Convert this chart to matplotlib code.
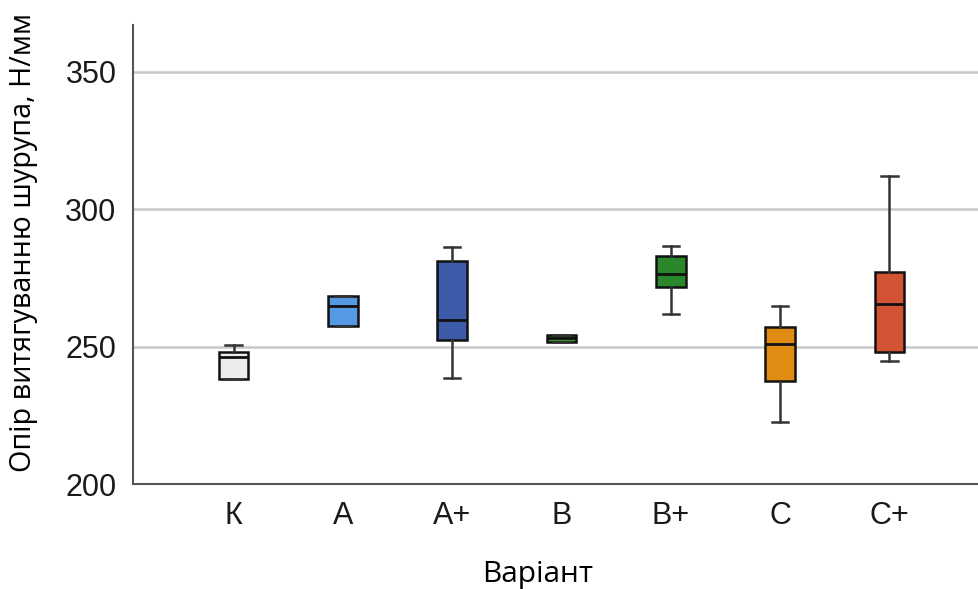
import matplotlib
matplotlib.use("Agg")
import matplotlib.pyplot as plt

# data (screw withdrawal resistance, N/mm)
variants = ['К', 'A', 'A+', 'B', 'B+', 'C', 'C+']
whisk_lo = [238.2, 257.6, 238.7, 251.8, 261.8, 222.5, 244.8]
q1 =       [238.2, 257.6, 252.4, 251.8, 271.5, 237.5, 248.0]
median =   [246.4, 264.8, 259.7, 253.2, 276.3, 250.9, 265.5]
q3 =       [248.2, 268.5, 281.2, 254.3, 283.1, 257.1, 277.3]
whisk_hi = [250.6, 268.5, 286.2, 254.3, 286.4, 264.8, 311.9]
colors = ['#ececec', '#5598e4', '#3d5ba8', '#3c9630', '#2a882a', '#e08c12', '#d35434']

stats = []
for i, name in enumerate(variants):
    stats.append(dict(label=name, whislo=whisk_lo[i], q1=q1[i], med=median[i],
                      q3=q3[i], whishi=whisk_hi[i], fliers=[]))

fig = plt.figure(figsize=(9.79, 5.89), dpi=100)
ax = fig.add_axes([0.136, 0.178, 0.864, 0.780])

ax.set_axisbelow(True)
ax.yaxis.grid(True, color='#c8c8c8', lw=1.8)

bp = ax.bxp(stats, positions=range(len(variants)), widths=0.27,
            patch_artist=True, showfliers=False,
            boxprops=dict(edgecolor='#111111', lw=1.8),
            medianprops=dict(color='#111111', lw=2.0),
            whiskerprops=dict(color='#333333', lw=1.8),
            capprops=dict(color='#333333', lw=1.8),
            capwidths=0.15)
for patch, c in zip(bp['boxes'], colors):
    patch.set_facecolor(c)

ax.set_xlim(-0.92, 6.82)
ax.set_ylim(200, 367)
ax.set_yticks([200, 250, 300, 350])

for s in ['top', 'right']:
    ax.spines[s].set_visible(False)
for s in ['left', 'bottom']:
    ax.spines[s].set_color('#555555')
    ax.spines[s].set_linewidth(1.5)

ax.tick_params(axis='x', length=0, pad=12)
ax.tick_params(axis='y', length=0, pad=12)
for lab in ax.get_xticklabels() + ax.get_yticklabels():
    lab.set_fontfamily('Liberation Sans')
    lab.set_fontsize(22)
    lab.set_color('#1a1a1a')

ax.set_ylabel('Опір витягуванню шурупа, Н/мм', fontsize=20.7, family='Open Sans')
ax.set_xlabel('Варіант', fontsize=21.5, family='Open Sans')
ax.yaxis.set_label_coords(-0.113, 0.527)
ax.xaxis.set_label_coords(0.478, -0.165)

fig.savefig('out.png', dpi=100)
